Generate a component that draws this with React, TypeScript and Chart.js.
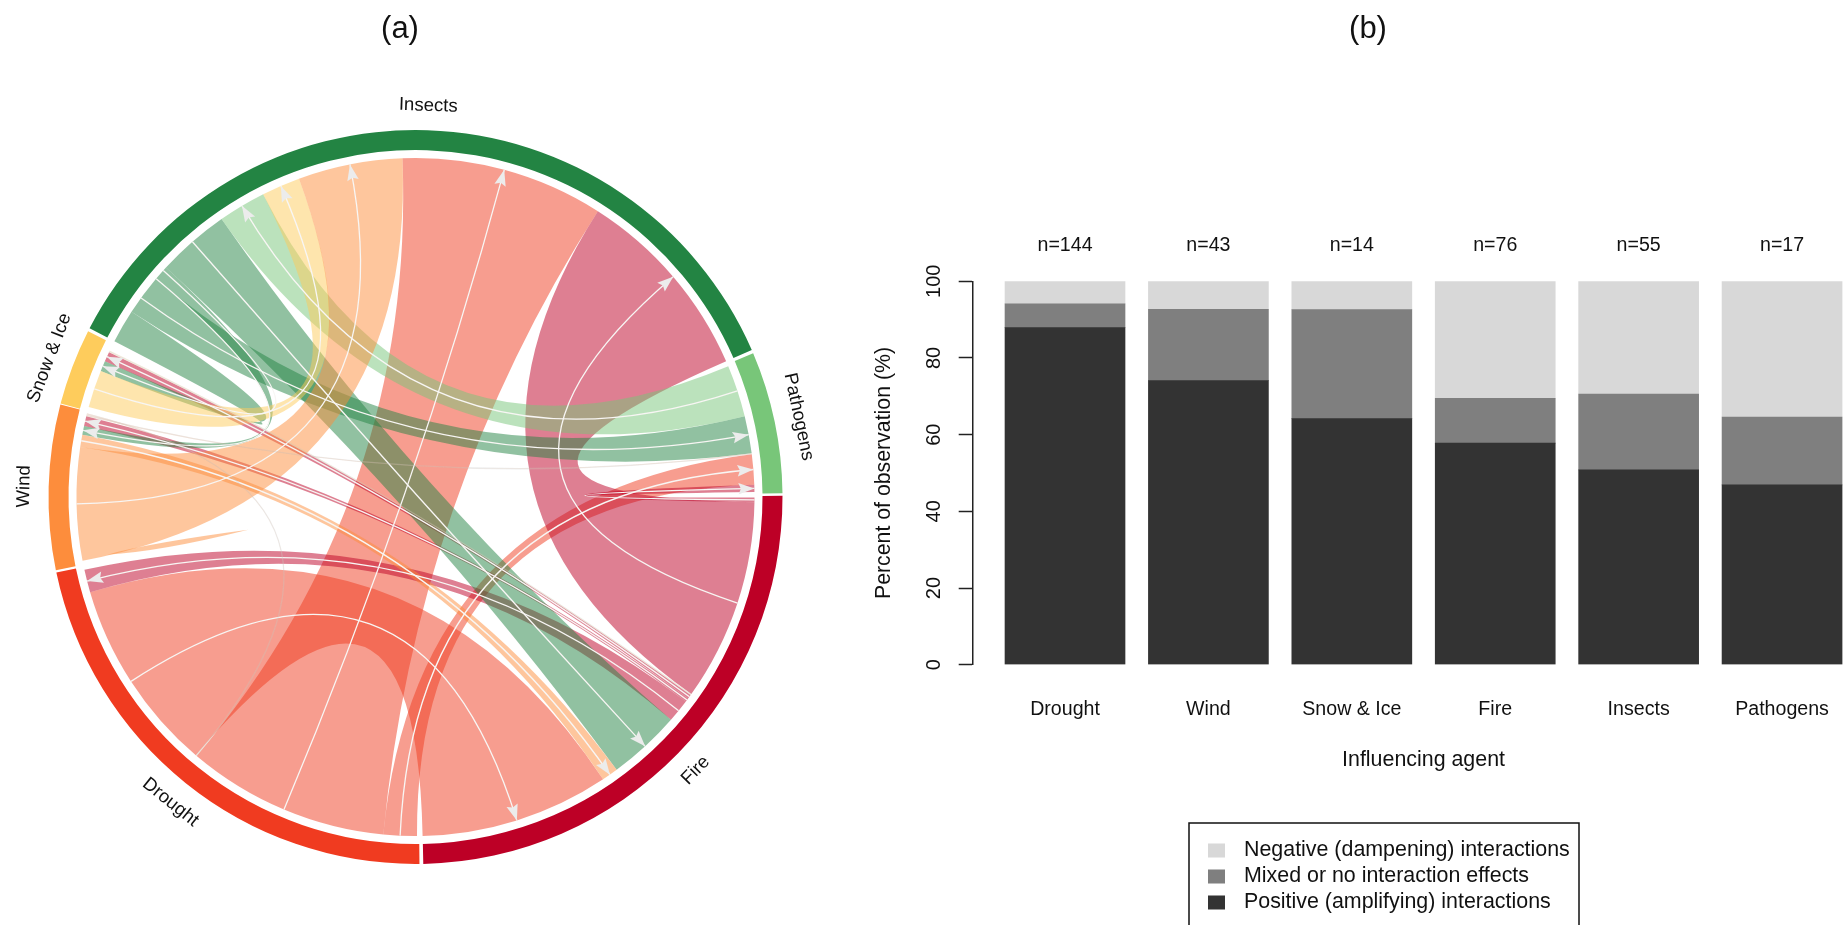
import React, { useEffect, useRef } from "react";
import { Chart, registerables } from "chart.js";

Chart.register(...registerables);

const FONT = "'Liberation Sans', Arial, sans-serif";

// ---- chord panel data (widths in degrees of the ring) ----
const agents = ["Insects", "Pathogens", "Fire", "Drought", "Wind", "Snow & Ice"];
const ringColors = ["#238443", "#78C679", "#BD0026", "#F03B20", "#FD8D3C", "#FECC5C"];
const ringSpans = [129.95, 22.65, 89.6, 79.3, 26.3, 12.2];
const ringStart = 296.9;

const flowFrom = ["Drought", "Drought", "Drought", "Fire", "Fire", "Fire", "Fire", "Fire", "Insects", "Insects", "Insects", "Insects", "Pathogens", "Snow & Ice", "Wind", "Wind", "Wind", "Wind", "Snow & Ice"];
const flowTo = ["Fire", "Insects", "Pathogens", "Insects", "Drought", "Wind", "Snow & Ice", "Pathogens", "Fire", "Pathogens", "Snow & Ice", "Wind", "Insects", "Insects", "Insects", "Fire", "Drought", "Pathogens", "Fire"];
const flowSourceWidth = [33.3, 34.75, 5.7, 34.65, 4, 0.65, 0.7, 0.8, 12.5, 6.9, 5.75, 2.6, 8.9, 6.4, 19.35, 2.1, 0.25, 0.25, 0.3];
const flowTargetWidth = [32.4, 34.75, 5.2, 33.85, 3.9, 1.7, 1.7, 1.2, 12.5, 6.4, 1.8, 1.5, 8.2, 6.6, 17.9, 2.8, 0.2, 0.15, 0.2];
const flowLineShift = [0, 0, 0, 0, 0, 0, 0, 0, 0, -0.6, 11.7, -1.2, 0, 0, 0, 0, 0, 0, 0];
const flowFaint = [16, 17, 18];

const slotPads = [0.45, 0.45, 0.6, 0.65, 0.75, 0.7];
const slotOrder = [
  ["s10", "s9", "s11", "s8", "t12", "t13", "t14", "t1", "t3"],
  ["s12", "t9", "t17", "t2", "t7"],
  ["s7", "s3", "t18", "s6", "s5", "s4", "t8", "t15", "t0"],
  ["s2", "s1", "t16", "s0", "t4"],
  ["s14", "s15", "t11", "t5", "s17", "s16"],
  ["s13", "t10", "t6", "s18"],
];

const sliverAngles = [259.4, 260.2, 258.9, 257.9];
const sliverRadii = [0.925, 0.795, 0.503, 0.77];

// ---- bar panel data ----
const categories = ["Drought", "Wind", "Snow & Ice", "Fire", "Insects", "Pathogens"];
const sampleLabels = ["n=144", "n=43", "n=14", "n=76", "n=55", "n=17"];
const positiveShare = [87.9, 74.1, 64.2, 57.8, 50.8, 46.9];
const mixedShare = [6.2, 18.6, 28.4, 11.7, 19.8, 17.7];
const negativeShare = [5.9, 7.3, 7.4, 30.5, 29.4, 35.4];
const yTicks = [0, 20, 40, 60, 80, 100];
const legendLabels = ["Negative (dampening) interactions", "Mixed or no interaction effects", "Positive (amplifying) interactions"];
const legendColors = ["#D8D8D8", "#7F7F7F", "#333333"];

const rad = (d: number) => (d * Math.PI) / 180;

const chordPlugin = {
  id: "chord",
  afterDatasetsDraw(chart: any) {
    const ctx = chart.ctx;
    const arcs = chart.getDatasetMeta(0).data;
    const cx = arcs[0].x;
    const cy = arcs[0].y;
    const R = arcs[0].outerRadius * (339 / 364.5);
    const pt = (deg: number, r: number) => [cx + r * Math.sin(rad(deg)), cy - r * Math.cos(rad(deg))];

    const src: number[][] = [];
    const tgt: number[][] = [];
    arcs.forEach((arc: any, i: number) => {
      let cur = ((arc.startAngle + Math.PI / 2) * 180) / Math.PI + slotPads[i];
      slotOrder[i].forEach((slot) => {
        const id = Number(slot.slice(1));
        if (slot[0] === "s") {
          src[id] = [cur, cur + flowSourceWidth[id]];
          cur += flowSourceWidth[id];
        } else {
          tgt[id] = [cur, cur + flowTargetWidth[id]];
          cur += flowTargetWidth[id];
        }
      });
    });

    ctx.save();
    flowFrom.forEach((from, id) => {
      const [a1, a2] = src[id];
      const [b1, b2] = tgt[id];
      const faint = flowFaint.includes(id);
      ctx.beginPath();
      ctx.arc(cx, cy, R, rad(a1) - Math.PI / 2, rad(a2) - Math.PI / 2);
      const pb1 = pt(b1, R);
      ctx.quadraticCurveTo(cx, cy, pb1[0], pb1[1]);
      ctx.arc(cx, cy, R, rad(b1) - Math.PI / 2, rad(b2) - Math.PI / 2);
      const pa1 = pt(a1, R);
      ctx.quadraticCurveTo(cx, cy, pa1[0], pa1[1]);
      ctx.closePath();
      ctx.globalAlpha = faint ? 0.15 : 0.5;
      ctx.fillStyle = ringColors[agents.indexOf(from)];
      ctx.fill();
    });

    // wind sliver
    const sl = sliverAngles.map((a, i) => pt(a, sliverRadii[i] * R));
    ctx.beginPath();
    ctx.moveTo(sl[0][0], sl[0][1]);
    ctx.quadraticCurveTo(sl[1][0], sl[1][1], sl[2][0], sl[2][1]);
    ctx.quadraticCurveTo(sl[3][0], sl[3][1], sl[0][0], sl[0][1]);
    ctx.closePath();
    ctx.globalAlpha = 0.5;
    ctx.fillStyle = ringColors[4];
    ctx.fill();

    // centre lines with arrowheads
    flowFrom.forEach((_, id) => {
      const am = (src[id][0] + src[id][1]) / 2 + flowLineShift[id];
      const bm = (tgt[id][0] + tgt[id][1]) / 2;
      const faint = flowFaint.includes(id);
      const p0 = pt(am, R);
      const p1 = pt(bm, R);
      ctx.beginPath();
      ctx.moveTo(p0[0], p0[1]);
      ctx.quadraticCurveTo(cx, cy, p1[0], p1[1]);
      ctx.globalAlpha = faint ? 0.35 : 1;
      ctx.strokeStyle = faint ? "#C8C8C8" : "#F8F6F4";
      ctx.lineWidth = 1.3;
      ctx.stroke();
      if (!faint) {
        const s = Math.sin(rad(bm));
        const c = -Math.cos(rad(bm));
        const back = [p1[0] - 16 * s, p1[1] - 16 * c];
        const notch = [p1[0] - 13.5 * s, p1[1] - 13.5 * c];
        ctx.beginPath();
        ctx.moveTo(p1[0], p1[1]);
        ctx.lineTo(back[0] - 5.8 * c, back[1] + 5.8 * s);
        ctx.lineTo(notch[0], notch[1]);
        ctx.lineTo(back[0] + 5.8 * c, back[1] - 5.8 * s);
        ctx.closePath();
        ctx.globalAlpha = 1;
        ctx.fillStyle = "#ECECEC";
        ctx.fill();
      }
    });

    // sector names
    ctx.globalAlpha = 1;
    ctx.fillStyle = "#111";
    ctx.font = `18.6px ${FONT}`;
    ctx.textAlign = "center";
    ctx.textBaseline = "middle";
    arcs.forEach((arc: any, i: number) => {
      const mid = ((arc.startAngle + arc.endAngle) / 2 + Math.PI / 2) * (180 / Math.PI);
      const p = pt(mid, arc.outerRadius + 27);
      const norm = ((mid % 360) + 360) % 360;
      const rot = norm > 100 && norm < 260 ? norm - 180 : norm;
      ctx.save();
      ctx.translate(p[0], p[1]);
      ctx.rotate(rad(rot));
      ctx.fillText(agents[i], 0, 0);
      ctx.restore();
    });

    ctx.font = `31px ${FONT}`;
    ctx.fillText("(a)", 400, 29);
    ctx.restore();
  },
};

const barDecorPlugin = {
  id: "barDecor",
  afterDraw(chart: any) {
    const ctx = chart.ctx;
    const x = chart.scales.x;
    const area = chart.chartArea;
    ctx.save();
    ctx.fillStyle = "#111";
    ctx.textAlign = "center";
    ctx.textBaseline = "middle";

    ctx.font = `31px ${FONT}`;
    ctx.fillText("(b)", 508, 29);

    ctx.font = `19.6px ${FONT}`;
    sampleLabels.forEach((t, i) => ctx.fillText(t, x.getPixelForValue(i + 1), area.top - 35.7));

    const first = x.getPixelForValue(1) - 60;
    const last = x.getPixelForValue(categories.length) + 60;
    ctx.font = `21.4px ${FONT}`;
    ctx.fillText("Influencing agent", (first + last) / 2, area.bottom + 95.3);

    // legend box
    const left = 329;
    const top = 158.3 + area.bottom;
    ctx.strokeStyle = "#111";
    ctx.lineWidth = 1.5;
    ctx.strokeRect(left, top, 390, 110);
    ctx.font = `21.4px ${FONT}`;
    ctx.textAlign = "left";
    legendLabels.forEach((t, i) => {
      const cy = top + 27.5 + i * 26;
      ctx.fillStyle = legendColors[i];
      ctx.fillRect(left + 19, cy - 7, 17, 14);
      ctx.fillStyle = "#111";
      ctx.fillText(t, left + 55, cy);
    });
    ctx.restore();
  },
};

export default function App() {
  const leftRef = useRef<HTMLCanvasElement>(null);
  const rightRef = useRef<HTMLCanvasElement>(null);

  useEffect(() => {
    const chord = new Chart(leftRef.current as any, {
      type: "doughnut",
      data: {
        labels: agents,
        datasets: [{ data: ringSpans, backgroundColor: ringColors, borderWidth: 0, spacing: 5 }],
      },
      options: {
        animation: false,
        responsive: false,
        rotation: ringStart,
        cutout: 344.5,
        layout: { padding: { left: 48.5, right: 77.5, top: 130, bottom: 61 } },
        plugins: { legend: { display: false }, tooltip: { enabled: false } },
        events: [],
      },
      plugins: [chordPlugin],
    } as any);

    const toPts = (arr: number[]) => arr.map((y, i) => ({ x: i + 1, y }));
    const barOpts = { barThickness: 120, borderWidth: 0 };
    const bars = new Chart(rightRef.current as any, {
      type: "bar",
      data: {
        datasets: [
          { label: "Positive (amplifying) interactions", data: toPts(positiveShare), backgroundColor: "#333333", ...barOpts },
          { label: "Mixed or no interaction effects", data: toPts(mixedShare), backgroundColor: "#7F7F7F", ...barOpts },
          { label: "Negative (dampening) interactions", data: toPts(negativeShare), backgroundColor: "#D8D8D8", ...barOpts },
        ],
      },
      options: {
        animation: false,
        responsive: false,
        events: [],
        layout: { padding: { left: 0, right: 0, top: 281.3, bottom: 0 } },
        plugins: { legend: { display: false }, tooltip: { enabled: false } },
        scales: {
          x: {
            type: "linear",
            stacked: true,
            offset: false,
            min: 0.3563,
            max: 6.425,
            afterFit: (s: any) => {
              s.height = 260.3;
              s.paddingLeft = 0;
              s.paddingRight = 0;
            },
            afterBuildTicks: (s: any) => {
              s.ticks = categories.map((_, i) => ({ value: i + 1 }));
            },
            grid: { display: false, drawTicks: false, offset: false },
            border: { display: false },
            ticks: {
              autoSkip: false,
              maxRotation: 0,
              minRotation: 0,
              padding: 33,
              color: "#111",
              font: { family: FONT, size: 19.6 },
              callback: (v: any) => categories[Number(v) - 1],
            },
          },
          y: {
            stacked: true,
            min: 0,
            max: 100,
            afterFit: (s: any) => {
              s.width = 112.7;
            },
            afterBuildTicks: (s: any) => {
              s.ticks = yTicks.map((value) => ({ value }));
            },
            grid: { drawOnChartArea: false, tickLength: 14, tickColor: "#222", tickWidth: 1.5 },
            border: { display: true, color: "#222", width: 1.5 },
            ticks: {
              minRotation: 90,
              maxRotation: 90,
              crossAlign: "center",
              padding: 8,
              color: "#111",
              font: { family: FONT, size: 20 },
            },
            title: {
              display: true,
              text: "Percent of observation (%)",
              color: "#111",
              font: { family: FONT, size: 21.3 },
              padding: { top: 11, bottom: 0 },
            },
          },
        },
      },
      plugins: [barDecorPlugin],
    } as any);

    return () => {
      chord.destroy();
      bars.destroy();
    };
  }, []);

  return (
    <div style={{ position: "absolute", left: 0, top: 0, width: 1843, height: 925, overflow: "hidden", background: "#fff" }}>
      <canvas ref={leftRef} width={860} height={925} style={{ position: "absolute", left: 0, top: 0, width: 860, height: 925 }} />
      <canvas ref={rightRef} width={983} height={925} style={{ position: "absolute", left: 860, top: 0, width: 983, height: 925 }} />
    </div>
  );
}
